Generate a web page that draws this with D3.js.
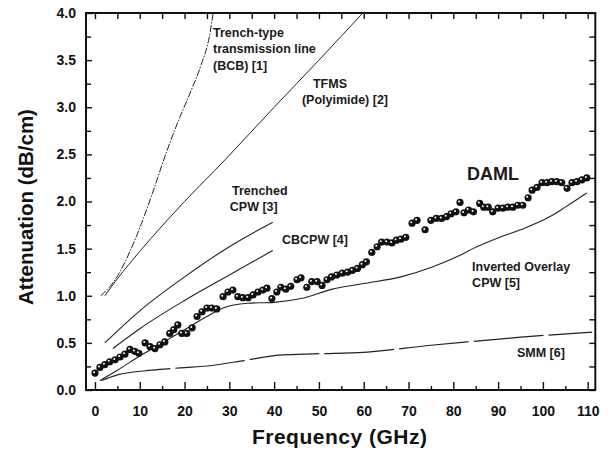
<!DOCTYPE html>
<html><head><meta charset="utf-8">
<script src="https://cdn.jsdelivr.net/npm/d3@7"></script>
<style>
body{margin:0;background:#fff;}
svg{display:block;font-family:"Liberation Sans",Arial,Helvetica,sans-serif;}
</style></head>
<body><svg id="c" width="610" height="453"></svg>
<script>
// ---- data ----
const xTicks = [0,10,20,30,40,50,60,70,80,90,100,110];
const yTicks = [0.0,0.5,1.0,1.5,2.0,2.5,3.0,3.5,4.0];

const damlFreq = [0,1.1,2.2,3.3,4.5,5.6,6.7,7.8,8.9,9.8,11.2,12.3,13.4,14.5,15.6,16.7,17.6,18.5,19.4,20.5,21.7,22.8,23.9,25.0,26.1,27.2,28.6,29.7,30.8,31.9,33.0,34.2,35.3,36.4,37.5,38.4,39.5,40.6,41.5,42.6,43.7,45.1,46.0,47.3,48.4,49.6,50.7,51.8,52.8,54.0,55.2,56.4,57.5,58.6,59.7,60.6,61.8,63.0,64.0,65.2,66.3,67.3,68.3,69.4,70.8,71.9,73.7,75.0,76.2,77.4,78.5,79.5,80.6,81.5,82.4,83.4,84.5,85.9,86.8,87.8,88.8,90.0,91.1,92.2,93.3,94.4,95.5,96.7,97.6,98.7,99.8,100.9,102.0,103.1,104.2,105.4,106.5,107.6,108.7,109.8];
const damlAtt = [0.18,0.24,0.27,0.30,0.32,0.35,0.38,0.43,0.41,0.39,0.50,0.46,0.44,0.48,0.51,0.60,0.64,0.69,0.60,0.60,0.66,0.78,0.83,0.87,0.87,0.86,0.99,1.04,1.06,0.99,0.98,0.98,1.01,1.04,1.06,1.08,0.97,1.04,1.09,1.07,1.10,1.17,1.19,1.09,1.15,1.15,1.11,1.17,1.20,1.22,1.24,1.25,1.27,1.29,1.33,1.36,1.46,1.52,1.57,1.57,1.56,1.59,1.60,1.62,1.77,1.80,1.70,1.80,1.82,1.82,1.84,1.87,1.89,1.99,1.88,1.91,1.89,1.98,1.94,1.94,1.89,1.93,1.93,1.94,1.94,1.96,1.96,2.04,2.12,2.15,2.20,2.20,2.21,2.21,2.20,2.14,2.20,2.21,2.23,2.25];

const trenchFreq = [1.3,4.5,8.9,12.7,16,19,21.5,23.7,25.5,26.4];
const trenchAtt  = [1.0,1.17,1.59,2.07,2.53,2.9,3.18,3.45,3.74,4.0];

const tfmsFreq = [2.2,5,10,20,29,40,50,59.8];
const tfmsAtt  = [1.0,1.18,1.47,2.0,2.44,3.0,3.5,4.0];

const trCpwFreq = [2.2,10,20,30,39.7];
const trCpwAtt  = [0.5,0.84,1.2,1.52,1.78];

const cbcpwFreq = [4,10,20,30,39.7];
const cbcpwAtt  = [0.44,0.65,0.95,1.22,1.48];

const iocpwFreq = [1.1,5,10,15,20,25,28.6,34,40,46,53,60,68.3,75,81.5,84.4,90.4,95,101.6,105,109.8];
const iocpwAtt  = [0.1,0.21,0.36,0.5,0.64,0.78,0.87,0.92,0.93,0.97,1.07,1.13,1.2,1.3,1.43,1.5,1.62,1.7,1.84,1.94,2.09];

const smmFreq = [1.5,5,12.7,19,26,33,41,50,60,75,83,95,111];
const smmAtt  = [0.1,0.16,0.21,0.235,0.26,0.31,0.37,0.385,0.40,0.475,0.51,0.56,0.615];

// ---- chart ----
const svg = d3.select("#c");
const x = d3.scaleLinear().domain([-2, 111.7]).range([86, 595.3]);
const y = d3.scaleLinear().domain([0, 4]).range([390, 13]);
const X0 = x.range()[0], X1 = x.range()[1], Y0 = y.range()[0], Y1 = y.range()[1];

svg.append("clipPath").attr("id","clip").append("rect")
  .attr("x",X0).attr("y",Y1).attr("width",X1-X0).attr("height",Y0-Y1);

const minorX = d3.range(5,111,10);
const minorY = d3.range(0.25,4,0.5);

function styleAxis(g){
  g.select(".domain").remove();
  g.selectAll(".tick line").attr("stroke","#111").attr("stroke-width",1.4);
  g.selectAll("text").attr("fill","#111").attr("font-weight","bold").attr("font-size","14px");
}
// bottom
svg.append("g").attr("transform",`translate(0,${Y0})`)
  .call(d3.axisBottom(x).tickValues(xTicks).tickSize(-8).tickPadding(16).tickFormat(d3.format("d")))
  .call(styleAxis);
svg.append("g").attr("transform",`translate(0,${Y0})`)
  .call(d3.axisBottom(x).tickValues(minorX).tickSize(-4).tickFormat(""))
  .call(styleAxis);
// top
svg.append("g").attr("transform",`translate(0,${Y1})`)
  .call(d3.axisTop(x).tickValues(xTicks.concat(minorX)).tickSize(-6).tickFormat(""))
  .call(styleAxis);
// left
svg.append("g").attr("transform",`translate(${X0},0)`)
  .call(d3.axisLeft(y).tickValues(yTicks).tickSize(-6).tickPadding(10).tickFormat(d3.format(".1f")))
  .call(styleAxis);
svg.append("g").attr("transform",`translate(${X0},0)`)
  .call(d3.axisLeft(y).tickValues(minorY).tickSize(-5).tickFormat(""))
  .call(styleAxis);
// right
svg.append("g").attr("transform",`translate(${X1},0)`)
  .call(d3.axisRight(y).tickValues(yTicks.concat(minorY)).tickSize(-6).tickFormat(""))
  .call(styleAxis);

// frame
svg.append("rect").attr("x",X0).attr("y",Y1).attr("width",X1-X0).attr("height",Y0-Y1)
  .attr("fill","none").attr("stroke","#111").attr("stroke-width",2);

// curves
const line = d3.line().x(d=>x(d[0])).y(d=>y(d[1])).curve(d3.curveMonotoneX);
const zip = (a,b)=>a.map((v,i)=>[v,b[i]]);
const curves = [
  {f:trenchFreq,a:trenchAtt,dash:"7,1.5,1.5,1.5",w:1},
  {f:tfmsFreq,a:tfmsAtt,dash:null,w:1},
  {f:trCpwFreq,a:trCpwAtt,dash:null,w:1.1},
  {f:cbcpwFreq,a:cbcpwAtt,dash:null,w:1.1},
  {f:iocpwFreq,a:iocpwAtt,dash:null,w:1.1},
  {f:smmFreq,a:smmAtt,dash:"70,5",w:1.2}
];
const cg = svg.append("g").attr("clip-path","url(#clip)");
curves.forEach(c=>{
  cg.append("path").attr("d",line(zip(c.f,c.a)))
    .attr("fill","none").attr("stroke","#222").attr("stroke-width",c.w)
    .attr("stroke-dasharray",c.dash);
});

// DAML markers
const daml = zip(damlFreq,damlAtt);
const mg = svg.append("g");
mg.selectAll("circle.b").data(daml).join("circle").attr("class","b")
  .attr("cx",d=>x(d[0])).attr("cy",d=>y(d[1])).attr("r",3.6).attr("fill","#111");
mg.selectAll("circle.h").data(daml).join("circle").attr("class","h")
  .attr("cx",d=>x(d[0])-0.9).attr("cy",d=>y(d[1])-0.9).attr("r",1.0).attr("fill","#fff");

// labels
const labels = [
  {f:26.35,v:3.749,lines:["Trench-type","transmission line","(BCB) [1]"],size:12.5},
  {f:48.67,v:3.204,lines:["TFMS"],size:12.5},
  {f:46.2,v:3.03,lines:["(Polyimide) [2]"],size:12.5},
  {f:30.6,v:2.069,lines:["Trenched"],size:12.5},
  {f:30.1,v:1.899,lines:["CPW [3]"],size:12.5},
  {f:41.75,v:1.549,lines:["CBCPW [4]"],size:12.5},
  {f:83.05,v:2.228,lines:["DAML"],size:18},
  {f:84.2,v:1.266,lines:["Inverted Overlay","CPW [5]"],size:12.5},
  {f:94.2,v:0.347,lines:["SMM [6]"],size:12.5}
];
labels.forEach(l=>{
  const t = svg.append("text").attr("x",x(l.f)).attr("y",y(l.v))
    .attr("font-size",l.size+"px").attr("font-weight","bold").attr("fill","#1a1a1a");
  l.lines.forEach((s,i)=>t.append("tspan").attr("x",x(l.f)).attr("dy",i?16.7:0).text(s));
});

// axis titles
svg.append("text").attr("x",(X0+X1)/2-1).attr("y",444).attr("text-anchor","middle")
  .attr("font-size","21px").attr("font-weight","bold").attr("letter-spacing","0.5px").attr("fill","#111")
  .text("Frequency (GHz)");
svg.append("text").attr("transform",`translate(33,${207}) rotate(-90)`).attr("text-anchor","middle")
  .attr("font-size","20.5px").attr("font-weight","bold").attr("fill","#111")
  .text("Attenuation (dB/cm)");
</script></body></html>
